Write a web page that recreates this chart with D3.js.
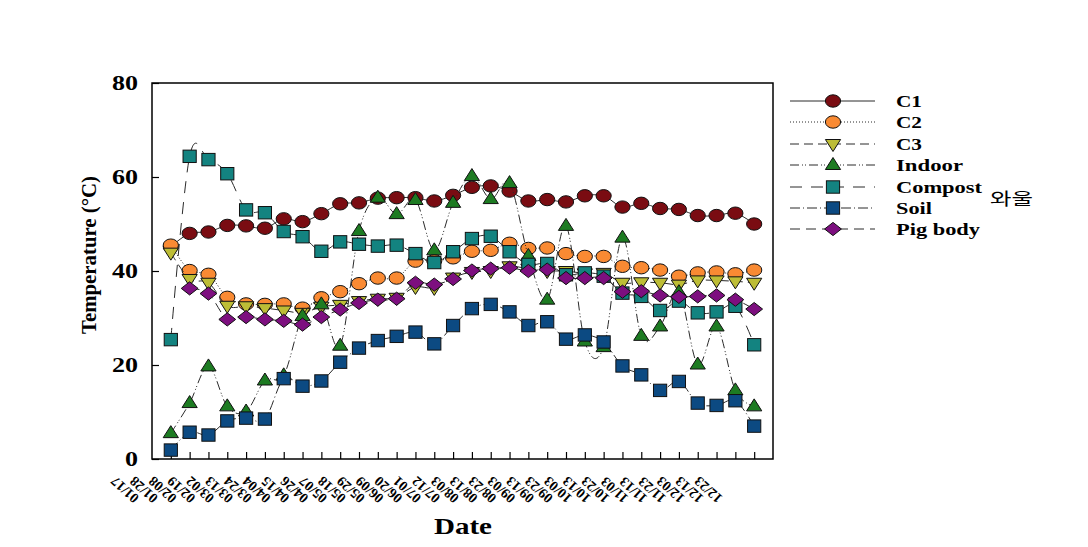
<!DOCTYPE html>
<html><head><meta charset="utf-8">
<script src="https://cdn.jsdelivr.net/npm/d3@7"></script>
<style>body{margin:0;background:#fff}svg{display:block}</style>
</head><body>
<svg id="chart" width="1088" height="547"></svg>
<script>
const dates = ["01/17","01/28","02/08","02/19","03/02","03/13","03/24","04/04","04/15","04/26","05/07","05/18","05/29","06/09","06/20","07/01","07/12","08/03","08/13","08/23","09/03","09/13","09/23","10/03","10/13","10/23","11/03","11/13","11/23","12/03","12/13","12/23"];
const c1 = [45.2,48.0,48.3,49.7,49.6,49.1,51.1,50.5,52.2,54.3,54.5,55.5,55.6,55.6,54.9,56.1,57.8,58.1,57.0,54.9,55.2,54.7,56.0,56.0,53.6,54.4,53.3,53.1,51.8,51.8,52.3,50.0];
const c2 = [45.5,40.1,39.3,34.4,33.0,32.9,33.0,32.1,34.3,35.6,37.3,38.5,38.5,42.1,42.2,42.8,44.2,44.4,45.9,44.8,44.9,43.7,43.1,43.1,41.0,40.7,40.2,38.9,39.6,39.8,39.4,40.2];
const c3 = [43.9,38.3,37.5,32.6,32.5,32.1,31.6,31.1,32.4,32.8,33.6,34.1,34.3,36.6,36.4,38.6,39.8,40.0,41.0,40.5,40.0,40.0,39.5,39.6,37.5,37.6,37.5,37.1,38.0,38.0,37.8,37.5];
const indoor = [5.5,11.9,19.7,11.2,10.1,16.7,17.8,30.4,32.9,24.1,48.5,55.6,52.1,55.1,44.4,54.5,60.2,55.3,58.7,43.2,33.9,49.6,25.0,23.8,47.1,26.2,28.2,35.5,20.1,28.2,14.6,11.2];
const compost = [25.4,64.4,63.7,60.7,53.0,52.4,48.4,47.3,44.2,46.2,45.7,45.3,45.5,43.7,41.8,44.1,46.9,47.4,44.1,41.4,41.6,39.2,39.6,38.9,35.3,34.6,31.6,33.6,31.1,31.3,32.5,24.3];
const soil = [1.9,5.7,5.1,8.1,8.7,8.5,17.1,15.5,16.6,20.6,23.6,25.2,26.1,27.0,24.5,28.4,32.0,32.9,31.3,28.4,29.2,25.5,26.4,24.9,19.8,17.9,14.6,16.5,11.9,11.4,12.4,7.0];
const pig = [null,36.3,35.2,29.7,30.2,29.7,29.4,28.6,30.2,31.8,33.2,33.9,34.1,37.5,37.1,38.3,40.1,40.5,40.7,40.0,40.3,38.5,38.5,38.5,35.6,35.7,34.8,34.5,34.6,34.8,33.9,31.9];
const yTicks = [0,20,40,60,80];

const series = [
  {name:"C1", values:c1, color:"#7a0c12", shape:"circle", dash:null},
  {name:"C2", values:c2, color:"#f98a33", shape:"circle", dash:"1,2"},
  {name:"C3", values:c3, color:"#bdbd36", shape:"triDown", dash:"9,5"},
  {name:"Indoor", values:indoor, color:"#1d7b22", shape:"triUp", dash:"9,3,1,2,1,3"},
  {name:"Compost", values:compost, color:"#138380", shape:"square", dash:"12,9"},
  {name:"Soil", values:soil, color:"#0c4a82", shape:"square", dash:"10,3,1,3"},
  {name:"Pig body", values:pig, color:"#7d0f7f", shape:"diamond", dash:"10,6"}
];

const FONT = "'Liberation Serif','Times New Roman',serif";
const svg = d3.select("#chart");
const L=152, R=773, T=83, B=459;
const x = d3.scalePoint().domain(d3.range(dates.length)).range([L,R]).padding(1);
const y = d3.scaleLinear().domain([0,80]).range([B,T]);

function marker(g, shape, color){
  let m;
  if(shape==="circle") m = g.append("ellipse").attr("rx",7.6).attr("ry",6.2);
  else if(shape==="square") m = g.append("rect").attr("x",-6.6).attr("y",-6.2).attr("width",13.2).attr("height",12.4);
  else if(shape==="triUp") m = g.append("path").attr("d","M0,-7.5L7.6,4.5L-7.6,4.5Z");
  else if(shape==="triDown") m = g.append("path").attr("d","M0,7.5L7.6,-4.5L-7.6,-4.5Z");
  else if(shape==="diamond") m = g.append("path").attr("d","M0,-6.6L8.4,0L0,6.6L-8.4,0Z");
  m.attr("fill",color).attr("stroke","#111").attr("stroke-width",1);
}

// frame
svg.append("rect").attr("x",L).attr("y",T).attr("width",R-L).attr("height",B-T)
  .attr("fill","none").attr("stroke","#000").attr("stroke-width",1.5);

// axes ticks (inward)
const xAxis = d3.axisBottom(x).tickSize(-7).tickFormat("");
svg.append("g").attr("transform",`translate(0,${B})`).call(xAxis)
  .call(g=>g.select(".domain").remove())
  .call(g=>g.selectAll("line").attr("stroke","#000").attr("stroke-width",1.2));
const yAxis = d3.axisLeft(y).tickValues(yTicks).tickSize(-7).tickPadding(14);
svg.append("g").attr("transform",`translate(${L},0)`).call(yAxis)
  .call(g=>g.select(".domain").remove())
  .call(g=>g.selectAll("line").attr("stroke","#000").attr("stroke-width",1.2))
  .call(g=>g.selectAll("text").attr("font-family",FONT).attr("font-weight","bold")
     .attr("font-size",21).attr("fill","#000")
     .attr("textLength",d=>String(d).length*13).attr("lengthAdjust","spacingAndGlyphs"));

// x tick labels
svg.append("g").selectAll("text").data(dates).join("text")
  .attr("transform",(d,i)=>`translate(${x(i)-31},497) rotate(-138)`)
  .attr("font-family",FONT).attr("font-weight","bold").attr("font-size",14)
  .attr("text-anchor","start").attr("fill","#000").text(d=>d);

// series
const line = d3.line().defined(d=>d[1]!=null).x(d=>x(d[0])).y(d=>y(d[1])).curve(d3.curveCardinal.tension(0));
series.forEach(s=>{
  const pts = s.values.map((v,i)=>[i,v]);
  svg.append("path").attr("d",line(pts)).attr("fill","none").attr("stroke","#2a2a2a")
    .attr("stroke-width",1).attr("stroke-dasharray",s.dash);
  const gm = svg.append("g");
  pts.filter(p=>p[1]!=null).forEach(p=>{
    const g = gm.append("g").attr("transform",`translate(${x(p[0])},${y(p[1])})`);
    marker(g,s.shape,s.color);
  });
});

// legend
const legY = [101,122,144,165,187,208,229];
const legW = [26,26,26,67,86,36,84];
series.forEach((s,i)=>{
  const g = svg.append("g").attr("transform",`translate(0,${legY[i]})`);
  g.append("line").attr("x1",790).attr("x2",875).attr("y1",0).attr("y2",0)
    .attr("stroke","#2a2a2a").attr("stroke-width",1).attr("stroke-dasharray",s.dash);
  const gm = g.append("g").attr("transform","translate(833,0)");
  marker(gm,s.shape,s.color);
  g.append("text").attr("x",896).attr("y",6).attr("font-family",FONT).attr("font-weight","bold")
    .attr("font-size",16).attr("textLength",legW[i]).attr("lengthAdjust","spacingAndGlyphs").text(s.name);
});
svg.append("text").attr("x",990).attr("y",205).attr("font-family","'Noto Sans CJK KR',sans-serif")
  .attr("font-size",17).attr("textLength",43).attr("lengthAdjust","spacingAndGlyphs").text("와울");

// axis titles
svg.append("text").attr("transform","translate(96,255) rotate(-90)").attr("text-anchor","middle")
  .attr("font-family",FONT).attr("font-weight","bold").attr("font-size",21)
  .attr("textLength",158).attr("lengthAdjust","spacingAndGlyphs").text("Temperature (°C)");
svg.append("text").attr("x",463).attr("y",534).attr("text-anchor","middle")
  .attr("font-family",FONT).attr("font-weight","bold").attr("font-size",24)
  .attr("textLength",58).attr("lengthAdjust","spacingAndGlyphs").text("Date");
</script>
</body></html>
